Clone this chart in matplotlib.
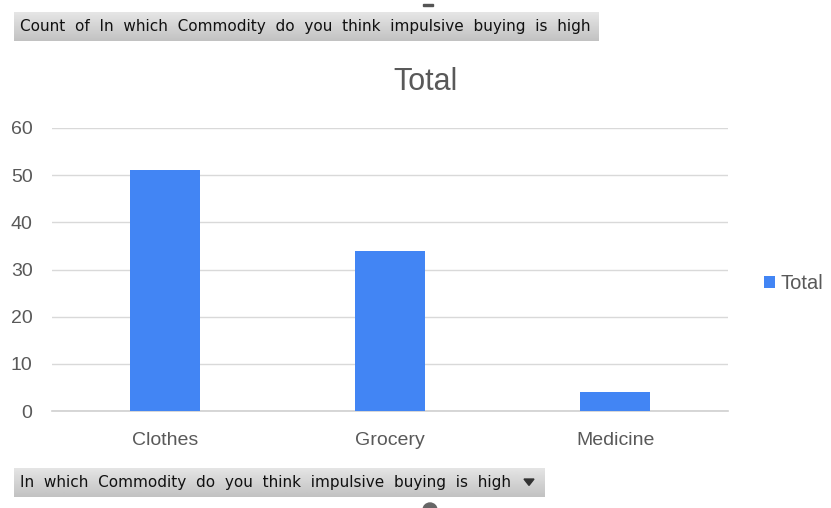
import numpy as np
import matplotlib.pyplot as plt
from matplotlib.patches import Polygon, Wedge, Rectangle

categories = ['Clothes', 'Grocery', 'Medicine']
totals = [51, 34, 4]
y_ticks = [0, 10, 20, 30, 40, 50, 60]
series_name = 'Total'
top_label = 'Count of In which Commodity do you think impulsive buying is high'
bottom_label = 'In which Commodity do you think impulsive buying is high'

W, H = 831, 508
fig = plt.figure(figsize=(W / 100, H / 100), dpi=100)
plt.rcParams['font.family'] = ['Liberation Sans', 'DejaVu Sans']

bar_color = '#4285f4'
text_gray = '#595959'


def fbox(x0, y0, x1, y1):
    # pixel coords (from top-left) -> figure fraction rect
    return [x0 / W, 1 - y1 / H, (x1 - x0) / W, (y1 - y0) / H]


ax = fig.add_axes(fbox(52, 128, 728, 411))
x = np.arange(len(categories))
ax.bar(x, totals, width=0.31, color=bar_color, label=series_name, zorder=3)
ax.set_xlim(-0.5, len(categories) - 0.5)
ax.set_ylim(0, 60)
ax.set_yticks(y_ticks)
ax.set_xticks(x)
ax.set_xticklabels(categories)
ax.tick_params(axis='both', length=0, labelsize=14, colors=text_gray)
ax.tick_params(axis='y', pad=14)
ax.tick_params(axis='x', pad=15)
ax.grid(axis='y', color='#d9d9d9', linewidth=1, zorder=0)
ax.axhline(0, color='#d0d0d0', linewidth=1.2, zorder=2, clip_on=False)
for s in ax.spines.values():
    s.set_visible(False)

fig.text(425 / W, 1 - 90 / H, series_name, fontsize=22, color=text_gray,
         ha='center', va='baseline')

leg = ax.legend(loc='center left', bbox_to_anchor=(1.027, 0.45), frameon=False,
                fontsize=14.5, handlelength=0.55, handleheight=0.55, handletextpad=0.25)
for t in leg.get_texts():
    t.set_color(text_gray)

# pivot field buttons (grey gradient)
grad = np.linspace(0.9, 0.76, 50).reshape(-1, 1)
for (x0, y0, x1, y1), label, arrow in [((14, 12, 598, 41), top_label, False),
                                       ((14, 468, 545, 497), bottom_label, True)]:
    bax = fig.add_axes(fbox(x0, y0, x1, y1))
    bax.imshow(grad, cmap='gray', vmin=0, vmax=1, aspect='auto', extent=(0, 1, 0, 1))
    bax.set_xlim(0, 1)
    bax.set_ylim(0, 1)
    bax.axis('off')
    bax.text(6 / (x1 - x0), 0.5, label.replace(' ', '  '), fontsize=11, color='#111111',
             va='center', ha='left', family='DejaVu Sans')
    if arrow:
        cx = (x1 - 16 - x0) / (x1 - x0)
        dx = 5 / (x1 - x0)
        bax.add_patch(Polygon([[cx - dx, 0.62], [cx + dx, 0.62], [cx, 0.4]],
                              closed=True, color='#333333'))

# selection handles of the chart object
fig.patches.append(Rectangle((423 / W, 1 - 6 / H), 10 / W, 2 / H, color='#555555',
                             transform=fig.transFigure, figure=fig))
hax = fig.add_axes([0, 0, 1, 1], zorder=-1)
hax.set_xlim(0, W)
hax.set_ylim(H, 0)
hax.axis('off')
hax.add_patch(Wedge((430, 510), 7, 180, 360, color='#666666'))

fig.savefig('out.png', dpi=100, facecolor='white')
